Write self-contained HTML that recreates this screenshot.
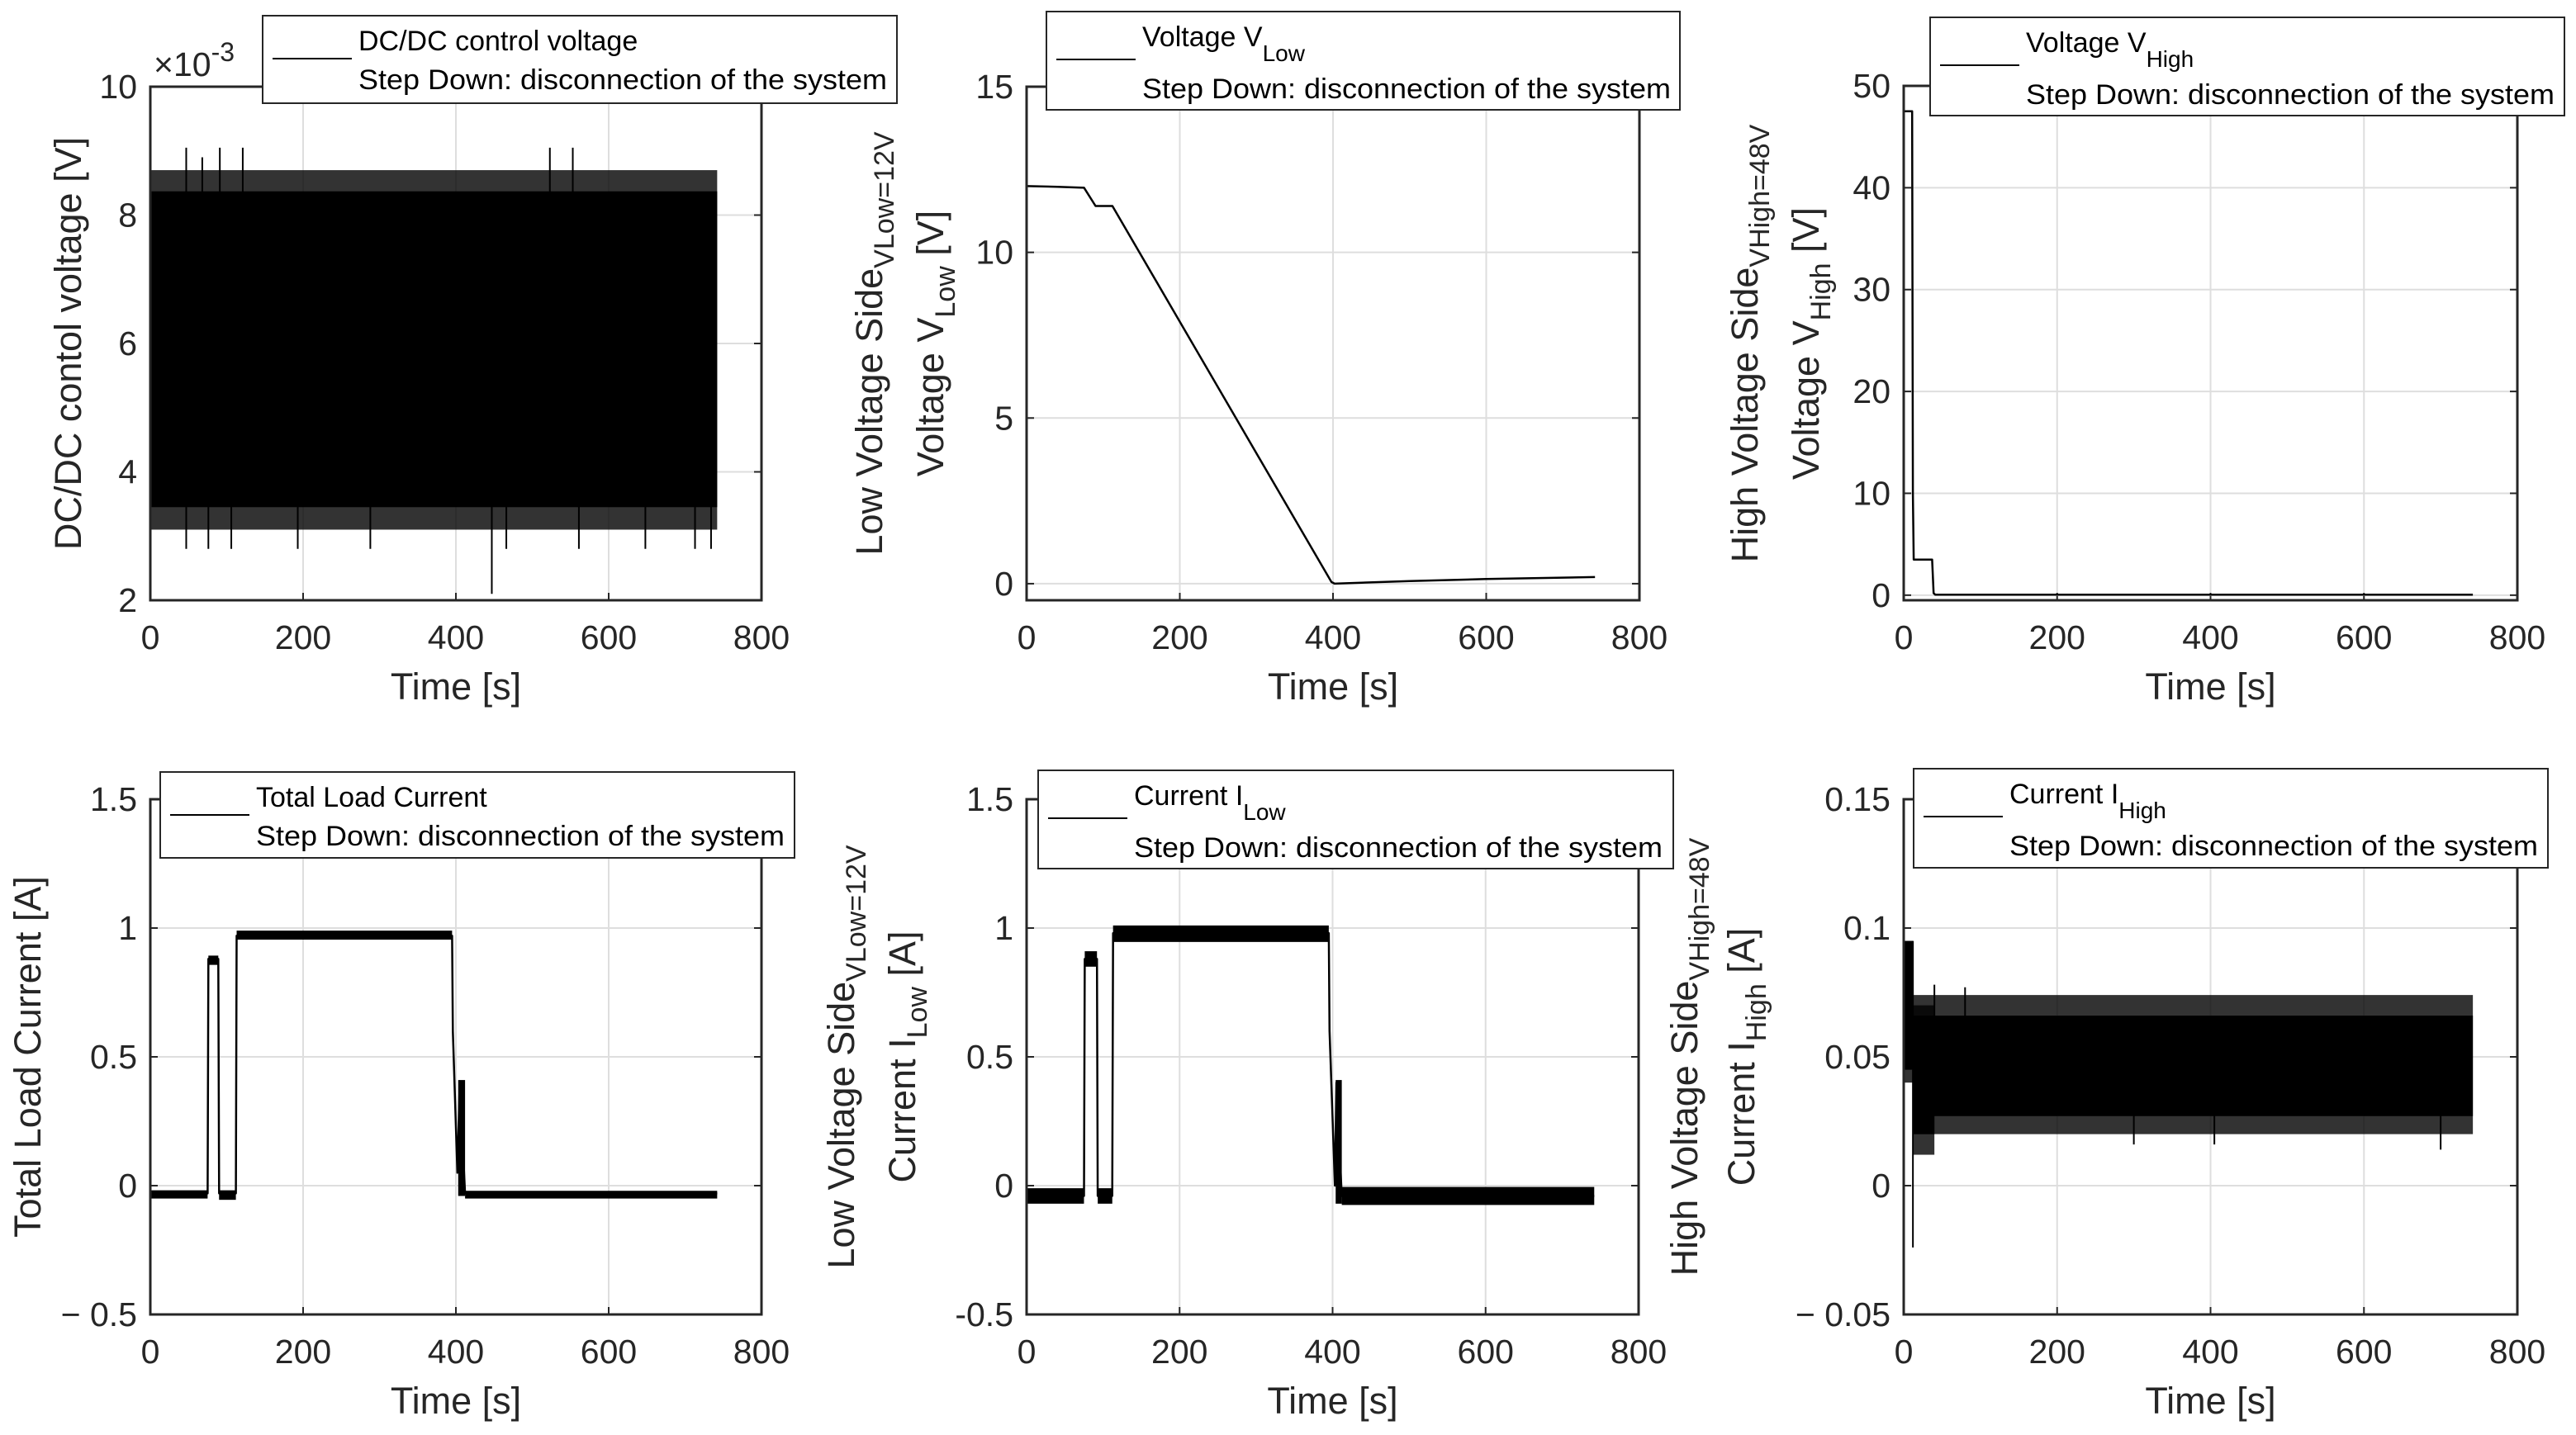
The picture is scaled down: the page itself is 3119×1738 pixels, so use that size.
<!DOCTYPE html>
<html><head><meta charset="utf-8"><style>
html,body{margin:0;padding:0;background:#fff}
svg{display:block;font-family:"Liberation Sans",Arial,sans-serif}
</style></head><body>
<svg id="fig" width="3119" height="1738" viewBox="0 0 3119 1738" xmlns="http://www.w3.org/2000/svg"></svg>
<script>
// ---- data ----
const xTicks = [0, 200, 400, 600, 800];
// Panel 1: DC/DC control voltage (x1e-3)
const ctrlBandT0 = [0];
const ctrlBandT1 = [742];
const ctrlInnerLo = [3.45];
const ctrlInnerHi = [8.37];
const ctrlOuterLo = [3.1];
const ctrlOuterHi = [8.7];
const ctrlSpikeT = [47, 68, 91, 121, 523, 553, 47, 76, 106, 193, 288, 447, 466, 561, 648, 713, 734];
const ctrlSpikeV = [9.05, 8.9, 9.05, 9.05, 9.05, 9.05, 2.8, 2.8, 2.8, 2.8, 2.8, 2.1, 2.8, 2.8, 2.8, 2.8, 2.8];
const ctrlTicks = [2, 4, 6, 8, 10];
const ctrlTickLabels = ["2", "4", "6", "8", "10"];
// Panel 2: Voltage VLow
const vlowT = [0, 40, 75, 90, 112, 398, 402, 500, 600, 742];
const vlowV = [12, 11.98, 11.95, 11.4, 11.4, 0.05, 0.0, 0.08, 0.14, 0.2];
const vlowTicks = [0, 5, 10, 15];
const vlowTickLabels = ["0", "5", "10", "15"];
// Panel 3: Voltage VHigh
const vhighT = [0, 11, 12, 13, 37, 39, 41, 742];
const vhighV = [47.5, 47.5, 10, 3.5, 3.5, 0.2, 0.05, 0.05];
const vhighTicks = [0, 10, 20, 30, 40, 50];
const vhighTickLabels = ["0", "10", "20", "30", "40", "50"];
// Panel 4: Total load current
const loadT = [0, 75, 76, 89, 90, 112, 113, 395, 396, 402, 405, 412, 742];
const loadV = [-0.03, -0.03, 0.88, 0.88, -0.03, -0.03, 0.97, 0.97, 0.6, 0.05, 0.4, -0.03, -0.03];
const loadBandT0 = [0, 76, 90, 113, 403, 412];
const loadBandT1 = [75, 89, 112, 395, 412, 742];
const loadBandLo = [-0.05, 0.857, -0.055, 0.955, -0.04, -0.05];
const loadBandHi = [-0.018, 0.893, -0.018, 0.99, 0.41, -0.02];
const iTicks = [-0.5, 0, 0.5, 1, 1.5];
const loadTickLabels = ["\u2212 0.5", "0", "0.5", "1", "1.5"];
// Panel 5: Current ILow
const ilowT = [0, 75, 76, 92, 93, 112, 113, 395, 396, 403, 405, 412, 742];
const ilowV = [-0.04, -0.04, 0.88, 0.88, -0.04, -0.04, 0.98, 0.98, 0.6, 0.0, 0.4, -0.04, -0.04];
const ilowBandT0 = [0, 76, 93, 113, 404, 412];
const ilowBandT1 = [75, 92, 112, 395, 412, 742];
const ilowBandLo = [-0.07, 0.85, -0.07, 0.946, -0.07, -0.075];
const ilowBandHi = [-0.01, 0.91, -0.01, 1.01, 0.41, -0.005];
const ilowTickLabels = ["-0.5", "0", "0.5", "1", "1.5"];
// Panel 6: Current IHigh
const ihighBandT0 = [0, 12, 12];
const ihighBandT1 = [12, 40, 742];
const ihighInnerLo = [0.045, 0.02, 0.027];
const ihighInnerHi = [0.095, 0.065, 0.066];
const ihighOuterLo = [0.04, 0.012, 0.02];
const ihighOuterHi = [0.095, 0.07, 0.074];
const ihighSpikeT = [12, 12, 40, 80, 300, 405, 700];
const ihighSpikeV = [-0.024, 0.095, 0.078, 0.077, 0.016, 0.016, 0.014];
const ihighTicks = [-0.05, 0, 0.05, 0.1, 0.15];
const ihighTickLabels = ["\u2212 0.05", "0", "0.05", "0.1", "0.15"];

const NS = "http://www.w3.org/2000/svg";
const fig = document.getElementById("fig");
function mk(tag, attrs, parent) {
  const e = document.createElementNS(NS, tag);
  for (const k in attrs) e.setAttribute(k, attrs[k]);
  (parent || fig).appendChild(e);
  return e;
}
function axes(L, R, T, B, ymin, ymax) {
  return {
    x: t => L + t / 800 * (R - L),
    y: v => B - (v - ymin) / (ymax - ymin) * (B - T),
    L, R, T, B
  };
}
function frame(g, ax, yTicks, yLabels) {
  for (let i = 0; i < xTicks.length; i++) {
    const px = ax.x(xTicks[i]);
    const gl = mk("line", {x1: px, x2: px, y1: ax.T, y2: ax.B, stroke: "#dedede", "stroke-width": 2}, g);
    
    
    const tl = mk("text", {x: px, y: ax.B + 59, "font-size": 41, "text-anchor": "middle", fill: "#262626"}, g);
    tl.textContent = String(xTicks[i]);
    
    
    mk("line", {x1: px, x2: px, y1: ax.B, y2: ax.B - 9, stroke: "#262626", "stroke-width": 2}, g);
  }
  for (let i = 0; i < yTicks.length; i++) {
    const py = ax.y(yTicks[i]);
    const gl = mk("line", {x1: ax.L, x2: ax.R, y1: py, y2: py, stroke: "#dedede", "stroke-width": 2}, g);
    
    
    mk("line", {x1: ax.L, x2: ax.L + 9, y1: py, y2: py, stroke: "#262626", "stroke-width": 2}, g);
    mk("line", {x1: ax.R, x2: ax.R - 9, y1: py, y2: py, stroke: "#262626", "stroke-width": 2}, g);
    const tl = mk("text", {x: ax.L - 16, y: py + 14, "font-size": 41, "text-anchor": "end", fill: "#262626"}, g);
    tl.textContent = yLabels[i];
    
    
  }
  const xl = mk("text", {x: (ax.L + ax.R) / 2, y: ax.B + 120, "font-size": 45, "text-anchor": "middle", fill: "#262626"}, g);
  xl.textContent = "Time [s]";
  
  
}
function box(g, ax) {
  const b = mk("rect", {x: ax.L, y: ax.T, width: ax.R - ax.L, height: ax.B - ax.T, fill: "none", stroke: "#262626", "stroke-width": 3}, g);
  
  
}
function polyline(g, ax, ts, vs, w) {
  let pts = [];
  for (let i = 0; i < ts.length; i++) pts.push(ax.x(ts[i]).toFixed(1) + "," + ax.y(vs[i]).toFixed(1));
  const p = mk("polyline", {points: pts.join(" "), fill: "none", stroke: "#000", "stroke-width": w, "stroke-linejoin": "round"}, g);
  
  
}
function bands(g, ax, t0, t1, lo, hi, op) {
  for (let i = 0; i < t0.length; i++) {
    const r = mk("rect", {x: ax.x(t0[i]), y: ax.y(hi[i]), width: Math.max(1.5, ax.x(t1[i]) - ax.x(t0[i])), height: ax.y(lo[i]) - ax.y(hi[i]), fill: "#000", "fill-opacity": op}, g);
    
    
  }
}
function spikes(g, ax, ts, vs, base) {
  for (let i = 0; i < ts.length; i++) {
    const l = mk("line", {x1: ax.x(ts[i]), x2: ax.x(ts[i]), y1: ax.y(base), y2: ax.y(vs[i]), stroke: "#000", "stroke-width": 2}, g);
    
    
  }
}
function ylabel(g, x, y, parts, name) {
  const t = mk("text", {transform: "translate(" + x + "," + y + ") rotate(-90)", "font-size": 45, "text-anchor": "middle", fill: "#262626"}, g);
  for (const p of parts) {
    const s = mk("tspan", p.sub ? {"font-size": 34, dy: 14} : (p.back ? {dy: -14} : {}), t);
    s.textContent = p.s;
  }
  
  
}
function legend(bx, by, bw, bh, main, sub) {
  const g = mk("g", {});
  
  
  mk("rect", {x: bx, y: by, width: bw, height: bh, fill: "#fff", stroke: "#262626", "stroke-width": 2}, g);
  const ly = sub ? by + 58 : by + 52;
  const ln = mk("line", {x1: bx + 12, x2: bx + 108, y1: ly, y2: ly, stroke: "#000", "stroke-width": 2}, g);
  
  
  const t1 = mk("text", {x: bx + 116, y: by + 42, "font-size": 34, fill: "#000"}, g);
  const m = mk("tspan", {}, t1); m.textContent = main;
  if (sub) { const s = mk("tspan", {"font-size": 28, dy: 18}, t1); s.textContent = sub; }
  
  
  const t2 = mk("text", {x: bx + 116, y: sub ? by + 105 : by + 89, "font-size": 34, fill: "#000", textLength: 640, lengthAdjust: "spacingAndGlyphs"}, g);
  t2.textContent = "Step Down: disconnection of the system";
  
  
}

// ---- Panel 1 ----
let g = mk("g", {});  
let ax = axes(182, 922, 105, 727, 2, 10);
frame(g, ax, ctrlTicks, ctrlTickLabels);
bands(g, ax, ctrlBandT0, ctrlBandT1, ctrlOuterLo, ctrlOuterHi, 0.8);
bands(g, ax, ctrlBandT0, ctrlBandT1, ctrlInnerLo, ctrlInnerHi, 1);
spikes(g, ax, ctrlSpikeT, ctrlSpikeV, 6);
box(g, ax);
let ex = mk("text", {x: 186, y: 92, "font-size": 41, fill: "#262626"}, g);
let e1 = mk("tspan", {}, ex); e1.textContent = "\u00d710";
let e2 = mk("tspan", {"font-size": 32, dy: -18}, ex); e2.textContent = "-3";


ylabel(g, 98, 416, [{s: "DC/DC contol voltage [V]"}], 'y-axis-title');
legend(318, 19, 768, 106, "DC/DC control voltage", null);

// ---- Panel 2 ----
g = mk("g", {});  
ax = axes(1243, 1985, 105, 727, -0.5, 15);
frame(g, ax, vlowTicks, vlowTickLabels);
polyline(g, ax, vlowT, vlowV, 2.5);
box(g, ax);
ylabel(g, 1068, 416, [{s: "Low Voltage Side"}, {s: "VLow=12V", sub: 1}], 'y-axis-title-side');
ylabel(g, 1142, 416, [{s: "Voltage V"}, {s: "Low", sub: 1}, {s: " [V]", back: 1}], 'y-axis-title');
legend(1267, 14, 767, 119, "Voltage V", "Low");

// ---- Panel 3 ----
g = mk("g", {});  
ax = axes(2305, 3048, 104, 727, -0.5, 50);
frame(g, ax, vhighTicks, vhighTickLabels);
polyline(g, ax, vhighT, vhighV, 2.5);
box(g, ax);
ylabel(g, 2128, 416, [{s: "High Voltage Side"}, {s: "VHigh=48V", sub: 1}], 'y-axis-title-side');
ylabel(g, 2202, 416, [{s: "Voltage V"}, {s: "High", sub: 1}, {s: " [V]", back: 1}], 'y-axis-title');
legend(2337, 21, 768, 119, "Voltage V", "High");

// ---- Panel 4 ----
g = mk("g", {});  
ax = axes(182, 922, 968, 1592, -0.5, 1.5);
frame(g, ax, iTicks, loadTickLabels);
bands(g, ax, loadBandT0, loadBandT1, loadBandLo, loadBandHi, 1);
polyline(g, ax, loadT, loadV, 2.5);
box(g, ax);
ylabel(g, 49, 1280, [{s: "Total Load Current [A]"}], 'y-axis-title');
legend(194, 935, 768, 104, "Total Load Current", null);

// ---- Panel 5 ----
g = mk("g", {});  
ax = axes(1243, 1984, 968, 1592, -0.5, 1.5);
frame(g, ax, iTicks, ilowTickLabels);
bands(g, ax, ilowBandT0, ilowBandT1, ilowBandLo, ilowBandHi, 1);
polyline(g, ax, ilowT, ilowV, 2.5);
box(g, ax);
ylabel(g, 1034, 1280, [{s: "Low Voltage Side"}, {s: "VLow=12V", sub: 1}], 'y-axis-title-side');
ylabel(g, 1108, 1280, [{s: "Current I"}, {s: "Low", sub: 1}, {s: " [A]", back: 1}], 'y-axis-title');
legend(1257, 933, 769, 119, "Current I", "Low");

// ---- Panel 6 ----
g = mk("g", {});  
ax = axes(2305, 3048, 968, 1592, -0.05, 0.15);
frame(g, ax, ihighTicks, ihighTickLabels);
bands(g, ax, ihighBandT0, ihighBandT1, ihighOuterLo, ihighOuterHi, 0.8);
bands(g, ax, ihighBandT0, ihighBandT1, ihighInnerLo, ihighInnerHi, 1);
spikes(g, ax, ihighSpikeT, ihighSpikeV, 0.045);
box(g, ax);
ylabel(g, 2055, 1280, [{s: "High Voltage Side"}, {s: "VHigh=48V", sub: 1}], 'y-axis-title-side');
ylabel(g, 2124, 1280, [{s: "Current I"}, {s: "High", sub: 1}, {s: " [A]", back: 1}], 'y-axis-title');
legend(2317, 931, 768, 120, "Current I", "High");
</script>
</body></html>
